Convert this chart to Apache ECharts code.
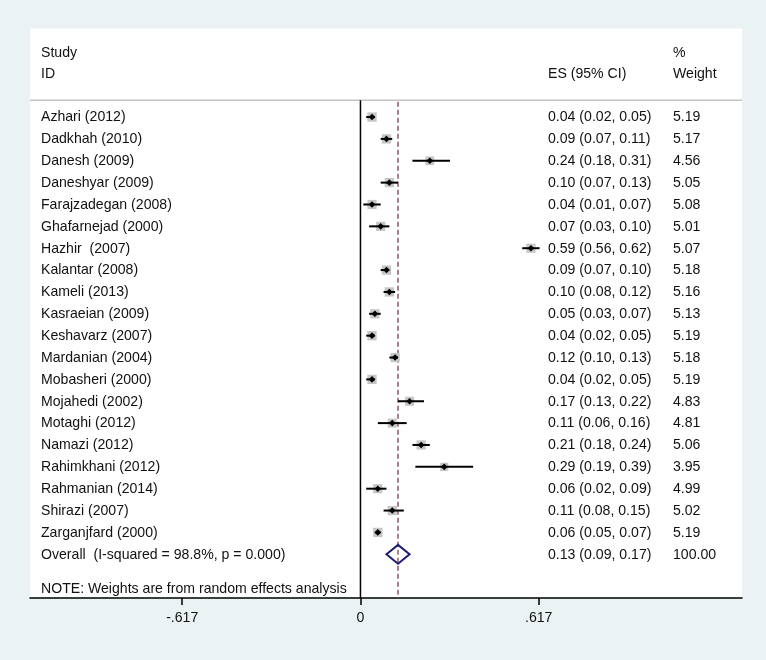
<!DOCTYPE html>
<html>
<head>
<meta charset="utf-8">
<script src="https://cdn.jsdelivr.net/npm/echarts@6/dist/echarts.min.js"></script>
<style>
html,body{margin:0;padding:0;background:#eaf2f3;}
#chart{width:766px;height:660px;}
</style>
</head>
<body>
<div id="chart"></div>
<script>
// ---- data ----
const studies = ["Azhari (2012)","Dadkhah (2010)","Danesh (2009)","Daneshyar (2009)","Farajzadegan (2008)","Ghafarnejad (2000)","Hazhir  (2007)","Kalantar (2008)","Kameli (2013)","Kasraeian (2009)","Keshavarz (2007)","Mardanian (2004)","Mobasheri (2000)","Mojahedi (2002)","Motaghi (2012)","Namazi (2012)","Rahimkhani (2012)","Rahmanian (2014)","Shirazi (2007)","Zarganjfard (2000)"];
const es     = [0.04,0.09,0.24,0.10,0.04,0.07,0.59,0.09,0.10,0.05,0.04,0.12,0.04,0.17,0.11,0.21,0.29,0.06,0.11,0.06];
const ciLow  = [0.02,0.07,0.18,0.07,0.01,0.03,0.56,0.07,0.08,0.03,0.02,0.10,0.02,0.13,0.06,0.18,0.19,0.02,0.08,0.05];
const ciHigh = [0.05,0.11,0.31,0.13,0.07,0.10,0.62,0.10,0.12,0.07,0.05,0.13,0.05,0.22,0.16,0.24,0.39,0.09,0.15,0.07];
const weights = [5.19,5.17,4.56,5.05,5.08,5.01,5.07,5.18,5.16,5.13,5.19,5.18,5.19,4.83,4.81,5.06,3.95,4.99,5.02,5.19];
const overallLabel = "Overall  (I-squared = 98.8%, p = 0.000)";
const overallEs = 0.13, overallLow = 0.09, overallHigh = 0.17, overallWeight = 100.00;
const noteText = "NOTE: Weights are from random effects analysis";
const tickValues = [-0.617, 0, 0.617];
const tickLabels = ["-.617", "0", ".617"];

// ---- chart ----
const FONT = 'Liberation Sans, Arial, sans-serif';
const FS = 14.1;
const TXT = '#111';
const chart = echarts.init(document.getElementById('chart'));
const nS = studies.length;
const rowData = studies.map((s,i)=>[i, es[i], ciLow[i], ciHigh[i], weights[i]]);

function fmt(v){ return v.toFixed(2); }

const textRows = studies.map((s,i)=>({name:s, i:i, es:`${fmt(es[i])} (${fmt(ciLow[i])}, ${fmt(ciHigh[i])})`, w:weights[i].toFixed(2)}));
textRows.push({name:overallLabel, i:nS, es:`${fmt(overallEs)} (${fmt(overallLow)}, ${fmt(overallHigh)})`, w:overallWeight.toFixed(2)});

function txt(x, y, s){
  return {type:'text', style:{x:x, y:y+0.5, text:s, fill:TXT, font:`${FS}px ${FONT}`, textVerticalAlign:'middle', textAlign:'left'}};
}

const option = {
  backgroundColor:'#eaf2f3',
  animation:false,
  grid:{left:30, right:24, top:28.5, bottom:62, show:true, backgroundColor:'#ffffff', borderWidth:0},
  xAxis:{
    type:'value', min:-1.1439, max:1.3207,
    splitLine:{show:false},
    axisLine:{show:true, onZero:false, lineStyle:{color:'#000', width:1.5}},
    axisTick:{show:true, customValues:tickValues, length:7, lineStyle:{color:'#000', width:1.5}},
    axisLabel:{show:true, customValues:tickValues, margin:13, color:TXT, fontFamily:FONT, fontSize:FS,
      formatter:(v)=>{ const k = tickValues.findIndex(t=>Math.abs(t-v)<1e-6); return k>=0?tickLabels[k]:''; }}
  },
  yAxis:{type:'value', inverse:true, min:-4.05, max:22.0, show:false},
  series:[
    // reference lines + header line
    {
      type:'custom', coordinateSystem:'cartesian2d', silent:true, clip:false,
      data:[[0]],
      renderItem:(params, api)=>{
        const z0 = api.coord([0, -0.77]), z1 = api.coord([0, 22.0]);
        const d0 = api.coord([overallEs, -0.7]), d1 = api.coord([overallEs, 22.0]);
        const h0 = api.coord([-1.1439, -0.77]), h1 = api.coord([1.3207, -0.77]);
        return {type:'group', children:[
          {type:'line', shape:{x1:h0[0], y1:h0[1], x2:h1[0], y2:h1[1]}, style:{stroke:'#c4c4c4', lineWidth:1.5}},
          {type:'line', shape:{x1:z0[0], y1:z0[1], x2:z1[0], y2:z1[1]}, style:{stroke:'#000', lineWidth:1.5}},
          {type:'line', shape:{x1:d0[0], y1:d0[1], x2:d1[0], y2:d1[1]}, style:{stroke:'#8e5c66', lineWidth:1.5, lineDash:[5,3]}}
        ]};
      }
    },
    // study markers
    {
      type:'custom', coordinateSystem:'cartesian2d', silent:true, clip:false,
      data:rowData,
      renderItem:(params, api)=>{
        const i = api.value(0), e = api.value(1), l = api.value(2), h = api.value(3), w = api.value(4);
        const pc = api.coord([e, i]), pl = api.coord([l, i]), ph = api.coord([h, i]);
        const s = 4.1*Math.sqrt(w);
        const d = 3.3;
        return {type:'group', children:[
          {type:'rect', shape:{x:pc[0]-s/2, y:pc[1]-s/2, width:s, height:s}, style:{fill:'#c6c6c6'}},
          {type:'line', shape:{x1:pl[0], y1:pl[1], x2:ph[0], y2:ph[1]}, style:{stroke:'#000', lineWidth:2}},
          {type:'polygon', shape:{points:[[pc[0]-d,pc[1]],[pc[0],pc[1]-d],[pc[0]+d,pc[1]],[pc[0],pc[1]+d]]}, style:{fill:'#000'}}
        ]};
      }
    },
    // overall diamond
    {
      type:'custom', coordinateSystem:'cartesian2d', silent:true, clip:false,
      data:[[nS, overallEs, overallLow, overallHigh]],
      renderItem:(params, api)=>{
        const i = api.value(0);
        const pl = api.coord([api.value(2), i]), ph = api.coord([api.value(3), i]);
        const pt = api.coord([api.value(1), i-0.43]), pb = api.coord([api.value(1), i+0.43]);
        return {type:'polygon', shape:{points:[pl, pt, ph, pb]}, style:{fill:'none', stroke:'#1e1e72', lineWidth:2}};
      }
    },
    // text columns
    {
      type:'custom', coordinateSystem:'cartesian2d', silent:true, clip:false,
      data:textRows.map(r=>[r.i]),
      renderItem:(params, api)=>{
        const r = textRows[params.dataIndex];
        const y = api.coord([0, r.i])[1];
        return {type:'group', children:[txt(41, y, r.name), txt(548, y, r.es), txt(673, y, r.w)]};
      }
    },
    // header + note
    {
      type:'custom', coordinateSystem:'cartesian2d', silent:true, clip:false,
      data:[[0]],
      renderItem:(params, api)=>{
        const y1 = api.coord([0, -2.95])[1], y2 = api.coord([0, -2.0])[1], yn = api.coord([0, 21.55])[1];
        return {type:'group', children:[
          txt(41, y1, 'Study'), txt(41, y2, 'ID'),
          txt(548, y2, 'ES (95% CI)'),
          txt(673, y1, '%'), txt(673, y2, 'Weight'),
          txt(41, yn, noteText)
        ]};
      }
    }
  ]
};
chart.setOption(option);
</script>
</body>
</html>
